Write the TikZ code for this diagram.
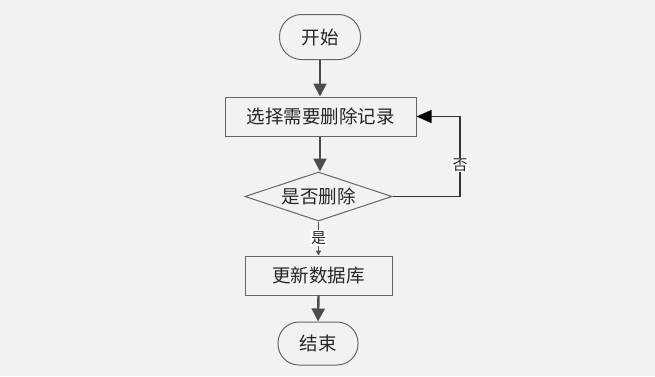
\documentclass[tikz,border=0pt]{standalone}
\usepackage{fontspec}
\newfontfamily\cjk{Noto Sans CJK SC}
\usetikzlibrary{shapes.geometric,arrows.meta,positioning}
\begin{document}
\begin{tikzpicture}[x=1pt,y=-1pt,
  every node/.style={font=\cjk\fontsize{18.5}{20}\selectfont, text=black!85},
  term/.style={draw=black!60, line width=1pt, fill=black!5, rounded corners=22pt, minimum width=81pt, minimum height=45pt, inner sep=0pt},
  proc/.style={draw=black!60, line width=1pt, fill=black!5, minimum height=39pt, inner sep=0pt},
  dec/.style={draw=black!60, line width=1pt, fill=black!5, diamond, aspect=3, inner sep=0pt, minimum width=147pt, minimum height=49pt},
  mainarrow/.style={draw=black!70, line width=2.4pt, -{Triangle[length=13pt,width=13pt]}},
  thinarrow/.style={draw=black!80, line width=1.3pt, -{Triangle[length=15pt,width=13pt,color=black]}},
  lbl/.style={fill=white, inner sep=1pt, font=\cjk\fontsize{15}{16}\selectfont}
]
\fill[black!5] (0,0) rectangle (655,376);
\useasboundingbox (0,0) rectangle (655,376);
\node[term] (start) at (320,37) {开始};
\node[proc, minimum width=191pt] (sel) at (320.5,116.5) {选择需要删除记录};
\node[dec, shape aspect=3] (dec) at (318.5,196.5) {是否删除};
\node[proc, minimum width=147pt] (upd) at (318.5,275.5) {更新数据库};
\node[term, minimum width=80pt, minimum height=43pt, rounded corners=21pt] (end) at (318,343.5) {结束};
\coordinate (loop) at (460,196.5);
\draw[mainarrow] (start.south) -- (start.south |- sel.north);
\draw[mainarrow] (sel.south -| 320,0) -- (dec.north -| 320,0);
\draw[thinarrow] (dec.east) -- (loop) -- (loop |- sel.east) -- (sel.east);
\node[lbl] at (460,165) {否};
\draw[draw=black!70, line width=1.3pt, -{Triangle[length=5pt,width=5pt]}] (dec.south) -- (upd.north);
\node[lbl] at (318.5,238) {是};
\draw[mainarrow] (upd.south) -- (end.north);
\end{tikzpicture}
\end{document}
